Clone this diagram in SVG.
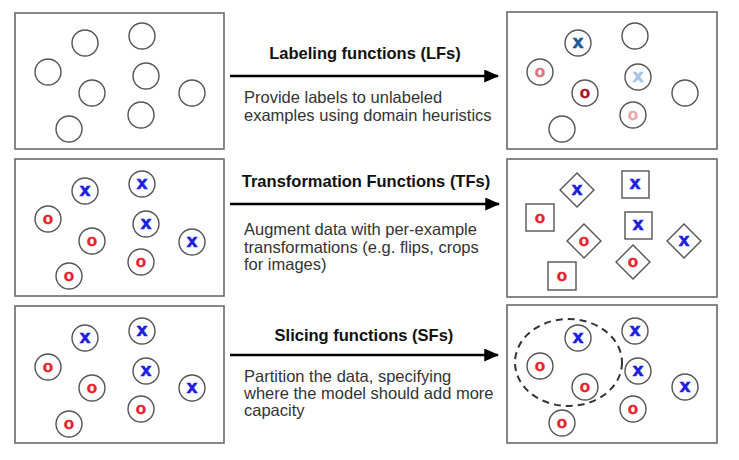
<svg xmlns="http://www.w3.org/2000/svg" width="739" height="460" viewBox="0 0 739 460">
<style>
.panel{fill:#fff;stroke:#6a6a6a;stroke-width:1.6}
.c{fill:#fff;stroke:#555;stroke-width:1.4}
.sq{fill:#fff;stroke:#555;stroke-width:1.4}
.x{font-family:"Liberation Sans",Arial,sans-serif;font-weight:bold;font-size:19px;text-anchor:middle;fill:#1d1de0;stroke:#1d1de0;stroke-width:0.7}
.o{font-family:"Liberation Sans",Arial,sans-serif;font-weight:bold;font-size:17px;text-anchor:middle;fill:#e8212b;stroke:#e8212b;stroke-width:0.4}
.title{font-family:"Liberation Sans",Arial,sans-serif;font-weight:bold;font-size:16.5px;text-anchor:middle;fill:#111}
.body{font-family:"Liberation Sans",Arial,sans-serif;font-size:16.5px;fill:#333}
.arrow{stroke:#000;stroke-width:2.5;fill:none}
</style>
<defs>
<marker id="ah" markerWidth="6" markerHeight="5.2" refX="5.5" refY="2.6" orient="auto" markerUnits="strokeWidth">
<path d="M0,0 L6,2.6 L0,5.2 Z" fill="#000"/>
</marker>
</defs>
<rect width="739" height="460" fill="#fff"/>

<g id="panel-unlabeled">
<rect class="panel" x="15" y="13" width="209" height="136"/>
<circle class="c" cx="85" cy="43" r="13"/>
<circle class="c" cx="142" cy="36" r="13"/>
<circle class="c" cx="48" cy="72" r="13"/>
<circle class="c" cx="146" cy="76" r="13"/>
<circle class="c" cx="92" cy="93" r="13"/>
<circle class="c" cx="192" cy="93" r="13"/>
<circle class="c" cx="141" cy="115" r="13"/>
<circle class="c" cx="69" cy="129" r="13"/>
</g>

<g id="panel-labeled">
<rect class="panel" x="507" y="12" width="210" height="137"/>
<circle class="c" cx="578" cy="43" r="13"/><text class="x" x="578" y="48" style="fill:#1f5a96;stroke:#1f5a96">x</text>
<circle class="c" cx="635" cy="36" r="13"/>
<circle class="c" cx="540" cy="72" r="13"/><text class="o" x="540" y="76.5" style="fill:#e0707e;stroke:#e0707e">o</text>
<circle class="c" cx="638" cy="77" r="13"/><text class="x" x="638" y="82" style="fill:#a6c6e8;stroke:#a6c6e8">x</text>
<circle class="c" cx="585" cy="93" r="13"/><text class="o" x="585" y="97.5" style="fill:#a3121f;stroke:#a3121f">o</text>
<circle class="c" cx="685" cy="93" r="13"/>
<circle class="c" cx="633" cy="115" r="13"/><text class="o" x="633" y="119.5" style="fill:#eaa8a8;stroke:#eaa8a8">o</text>
<circle class="c" cx="562" cy="129" r="13"/>
</g>

<g id="panel-data">
<rect class="panel" x="15" y="159" width="209" height="137"/>
<circle class="c" cx="85" cy="191" r="13"/><text class="x" x="85" y="196">x</text>
<circle class="c" cx="142" cy="184" r="13"/><text class="x" x="142" y="189">x</text>
<circle class="c" cx="48" cy="219" r="13"/><text class="o" x="48" y="223.5">o</text>
<circle class="c" cx="146" cy="224" r="13"/><text class="x" x="146" y="229">x</text>
<circle class="c" cx="92" cy="241" r="13"/><text class="o" x="92" y="245.5">o</text>
<circle class="c" cx="192" cy="242" r="13"/><text class="x" x="192" y="247">x</text>
<circle class="c" cx="141" cy="262" r="13"/><text class="o" x="141" y="266.5">o</text>
<circle class="c" cx="69" cy="276" r="13"/><text class="o" x="69" y="280.5">o</text>
</g>

<g id="panel-transformed">
<rect class="panel" x="507" y="159" width="210" height="138"/>
<rect class="sq" x="565" y="178" width="24" height="24" transform="rotate(45 577 190)"/><text class="x" x="577" y="195">x</text>
<rect class="sq" x="622" y="171" width="27" height="27"/><text class="x" x="635" y="189">x</text>
<rect class="sq" x="526" y="204" width="28" height="27"/><text class="o" x="540" y="222.5">o</text>
<rect class="sq" x="625" y="212" width="27" height="27"/><text class="x" x="638" y="230">x</text>
<rect class="sq" x="572" y="229" width="24" height="24" transform="rotate(45 584 241)"/><text class="o" x="584" y="245.5">o</text>
<rect class="sq" x="672" y="229" width="24" height="24" transform="rotate(45 684 241)"/><text class="x" x="684" y="246">x</text>
<rect class="sq" x="621" y="250" width="24" height="24" transform="rotate(45 633 262)"/><text class="o" x="633" y="266.5">o</text>
<rect class="sq" x="548" y="262" width="28" height="28"/><text class="o" x="562" y="280.5">o</text>
</g>

<g id="panel-data-2">
<rect class="panel" x="15" y="306" width="209" height="137"/>
<circle class="c" cx="85" cy="338" r="13"/><text class="x" x="85" y="343">x</text>
<circle class="c" cx="142" cy="331" r="13"/><text class="x" x="142" y="336">x</text>
<circle class="c" cx="48" cy="367" r="13"/><text class="o" x="48" y="371.5">o</text>
<circle class="c" cx="146" cy="371" r="13"/><text class="x" x="146" y="376">x</text>
<circle class="c" cx="92" cy="388" r="13"/><text class="o" x="92" y="392.5">o</text>
<circle class="c" cx="192" cy="388" r="13"/><text class="x" x="192" y="393">x</text>
<circle class="c" cx="141" cy="409" r="13"/><text class="o" x="141" y="413.5">o</text>
<circle class="c" cx="69" cy="424" r="13"/><text class="o" x="69" y="428.5">o</text>
</g>

<g id="panel-sliced">
<rect class="panel" x="507" y="305" width="210" height="138"/>
<circle class="c" cx="578" cy="338" r="13"/><text class="x" x="578" y="343">x</text>
<circle class="c" cx="635" cy="331" r="13"/><text class="x" x="635" y="336">x</text>
<circle class="c" cx="540" cy="366" r="13"/><text class="o" x="540" y="370.5">o</text>
<circle class="c" cx="638" cy="371" r="13"/><text class="x" x="638" y="376">x</text>
<circle class="c" cx="585" cy="387" r="13"/><text class="o" x="585" y="391.5">o</text>
<circle class="c" cx="685" cy="387" r="13"/><text class="x" x="685" y="392">x</text>
<circle class="c" cx="633" cy="409" r="13"/><text class="o" x="633" y="413.5">o</text>
<circle class="c" cx="562" cy="423" r="13"/><text class="o" x="562" y="427.5">o</text>
<ellipse cx="568.5" cy="362.5" rx="53.5" ry="43.5" fill="none" stroke="#333" stroke-width="2" stroke-dasharray="7,5"/>
</g>

<g id="connectors">
<line class="arrow" x1="230" y1="76" x2="498" y2="76" marker-end="url(#ah)"/>
<line class="arrow" x1="230" y1="204" x2="499" y2="204" marker-end="url(#ah)"/>
<line class="arrow" x1="230" y1="355" x2="498" y2="355" marker-end="url(#ah)"/>
</g>

<g id="label-lf">
<text class="title" x="365" y="59">Labeling functions (LFs)</text>
<text class="body" x="244" y="103">Provide labels to unlabeled</text>
<text class="body" x="244" y="121">examples using domain heuristics</text>
</g>
<g id="label-tf">
<text class="title" x="366" y="187">Transformation Functions (TFs)</text>
<text class="body" x="244" y="235">Augment data with per-example</text>
<text class="body" x="244" y="253">transformations (e.g. flips, crops</text>
<text class="body" x="244" y="270">for images)</text>
</g>
<g id="label-sf">
<text class="title" x="364" y="341">Slicing functions (SFs)</text>
<text class="body" x="244" y="382">Partition the data, specifying</text>
<text class="body" x="244" y="399">where the model should add more</text>
<text class="body" x="244" y="416">capacity</text>
</g>
</svg>
